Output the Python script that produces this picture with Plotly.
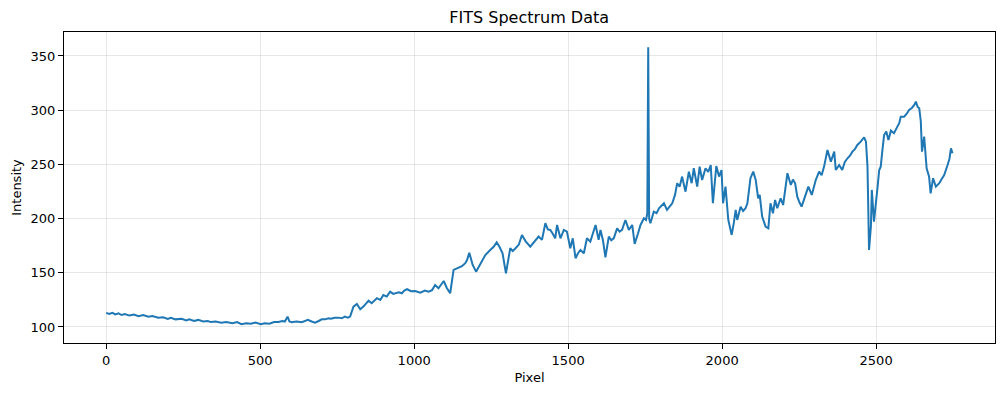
import plotly.graph_objects as go

pixel = [0, 10, 20, 30, 40, 50, 61, 75, 90, 105, 120, 137, 150, 169, 185, 200, 210, 225, 245, 260, 270, 285,
         299, 315, 330, 340, 355, 374, 390, 410, 425, 439, 455, 470, 485, 502, 515, 530, 545, 559, 572, 580,
         589, 595, 602, 618, 635, 645, 655, 667, 678, 690, 700, 711, 722, 730, 742, 754, 765, 775, 785, 792,
         803, 814, 825, 836, 846, 852, 862, 870, 879, 890, 900, 911, 922, 932, 940, 950, 960, 968, 977, 990,
         1003, 1012, 1020, 1035, 1047, 1058, 1068, 1079, 1088, 1096, 1106, 1117, 1128, 1136, 1144, 1155, 1166,
         1172, 1179, 1190, 1201, 1210, 1220, 1231, 1247, 1258, 1268, 1277, 1287, 1298, 1312, 1320, 1329, 1340,
         1350, 1362, 1377, 1390, 1404, 1415, 1426, 1434, 1442, 1450, 1458, 1464, 1475, 1486, 1496, 1507, 1515,
         1524, 1532, 1540, 1551, 1561, 1572, 1580, 1589, 1599, 1605, 1613, 1621, 1632, 1640, 1648, 1659, 1667,
         1675, 1686, 1697, 1708, 1716, 1727, 1735, 1746, 1753, 1757, 1760, 1763, 1767, 1778, 1787, 1795, 1803,
         1811, 1821, 1830, 1838, 1847, 1854, 1862, 1870, 1881, 1892, 1901, 1908, 1919, 1927, 1935, 1946, 1955,
         1963, 1970, 1981, 1990, 1998, 2003, 2011, 2020, 2031, 2038, 2044, 2049, 2060, 2068, 2076, 2082, 2092,
         2101, 2109, 2117, 2122, 2130, 2141, 2150, 2157, 2165, 2172, 2179, 2190, 2198, 2205, 2212, 2223, 2230,
         2237, 2244, 2251, 2258, 2269, 2280, 2291, 2298, 2304, 2315, 2323, 2331, 2342, 2353, 2364, 2369, 2380,
         2390, 2398, 2407, 2415, 2423, 2431, 2439, 2450, 2461, 2467, 2472, 2477, 2483, 2486, 2493, 2499, 2505,
         2510, 2515, 2520, 2526, 2533, 2540, 2548, 2558, 2569, 2575, 2580, 2591, 2600, 2607, 2616, 2624, 2629,
         2635, 2640, 2645, 2649, 2656, 2664, 2672, 2677, 2685, 2694, 2705, 2712, 2721, 2732, 2738, 2743, 2748]

intensity = [113, 112, 113, 111.5, 112.5, 111, 112, 110.5, 111.5, 110, 111, 109.5, 110, 108.5, 109, 107.5,
             108.5, 107, 107.5, 106, 107, 105.5, 106.5, 105, 105.5, 104.5, 105, 104, 104.5, 103.5, 104.5, 102.5,
             103.5, 103, 104, 102.5, 103.5, 103, 104.5, 104.5, 105.5, 105,
             109.5, 105, 104.3, 105, 104.3, 105.5, 106.5, 105, 104, 105.5, 107, 107, 108, 107.5, 108.5, 108.6,
             108, 109.5, 108.5, 109.5,
             118.7, 121.2, 116.3, 119, 121.9, 124.3, 121.9, 124, 126.5, 124.9, 129.5, 128, 132.6, 130.5, 131,
             132, 131.1, 133.5, 134.8, 133, 133.2, 132, 131.6, 133.5, 132.6, 134, 138.7, 135.7, 139, 142.4,
             136, 131.1, 152.6, 153.5, 155.1, 156, 158.8, 162, 168.5, 157.2, 151, 156, 160.2, 166.4, 171, 174,
             178, 174, 168, 149.5, 172.6, 170, 172.6, 176, 184.9, 179, 174.1, 179, 183.4, 180.3, 195.7, 190,
             189.5, 186, 181.8, 194.1, 181.8, 189.5, 187.9, 172.6, 181.8, 163.4, 168, 171, 168, 181.8, 178.7,
             186, 194.1, 180.3, 189.5, 180, 164.3, 183.4, 180, 181.8, 191, 188, 189.5, 198.7, 189.5, 194.1,
             176.6, 186.4, 194.1, 200.3, 198.7, 205, 358, 200, 195.7, 206.4, 205, 209.5, 212, 214.1, 208, 211,
             214.1, 221.8, 232.6, 229.4, 238.7, 224.8, 243.3, 232.6, 246.4, 229.4, 247.9, 235.6, 246.4, 243,
             249.4, 214.1, 248.5, 238.7, 244.8, 214.1, 229.4, 198.7, 184.9, 196, 207.9, 198.7, 211, 207, 209.5,
             214.1, 237.2, 243.3, 235.6, 218.7, 221.8, 201.8, 192.5, 191, 214.1, 204.9, 217.2, 209.5, 218.7,
             212.5, 226, 241.8, 231, 236, 232.6, 220.2, 215, 211, 220.2, 229.4, 221.8, 230, 235.6, 243.3, 240,
             247.9, 263.3, 252.5, 261.7, 244.8, 249.4, 244.8, 252, 255.6, 258, 261.7, 264, 267.9, 270.9, 275,
             270.9, 247.9, 171, 192.5, 226.4, 197.1, 211, 230, 244.8, 247.9, 262, 277.1, 280.2, 272.5, 281.1,
             278.7, 284.8, 288, 294, 294, 297, 300.2, 302, 304.8, 307.8, 303, 301.7, 290, 261.7, 275.6, 246.4,
             238.7, 223.3, 237.2, 229.4, 232.6, 236, 240.2, 249.4, 255, 264.8, 260.2]

fig = go.Figure()
fig.add_trace(go.Scatter(x=pixel, y=intensity, mode="lines",
                         line=dict(color="#1f77b4", width=2)))

axis_common = dict(
    showline=True, linecolor="black", linewidth=1, mirror=True,
    ticks="outside", ticklen=5, tickwidth=1, tickcolor="black",
    showgrid=True, gridcolor="rgba(176,176,176,0.3)", gridwidth=1,
    zeroline=False, tickfont=dict(size=13, color="black"),
    title_font=dict(size=13, color="black"), automargin=False,
)

fig.update_layout(
    width=989, height=377,
    margin=dict(l=56, r=2, t=24, b=42, autoexpand=False),
    paper_bgcolor="white", plot_bgcolor="white",
    font=dict(family="DejaVu Sans", color="black"),
    showlegend=False,
    title=dict(text="FITS Spectrum Data", x=0.527, xanchor="center", y=0.976, yanchor="middle",
               font=dict(size=16, color="black")),
    xaxis=dict(range=[-137, 2886], tickvals=[0, 500, 1000, 1500, 2000, 2500],
               title=dict(text="Pixel", standoff=6), **axis_common),
    yaxis=dict(range=[85.2, 372.1], tickvals=[100, 150, 200, 250, 300, 350],
               title=dict(text="Intensity", standoff=6), **axis_common),
)

fig.write_html("out.html")
